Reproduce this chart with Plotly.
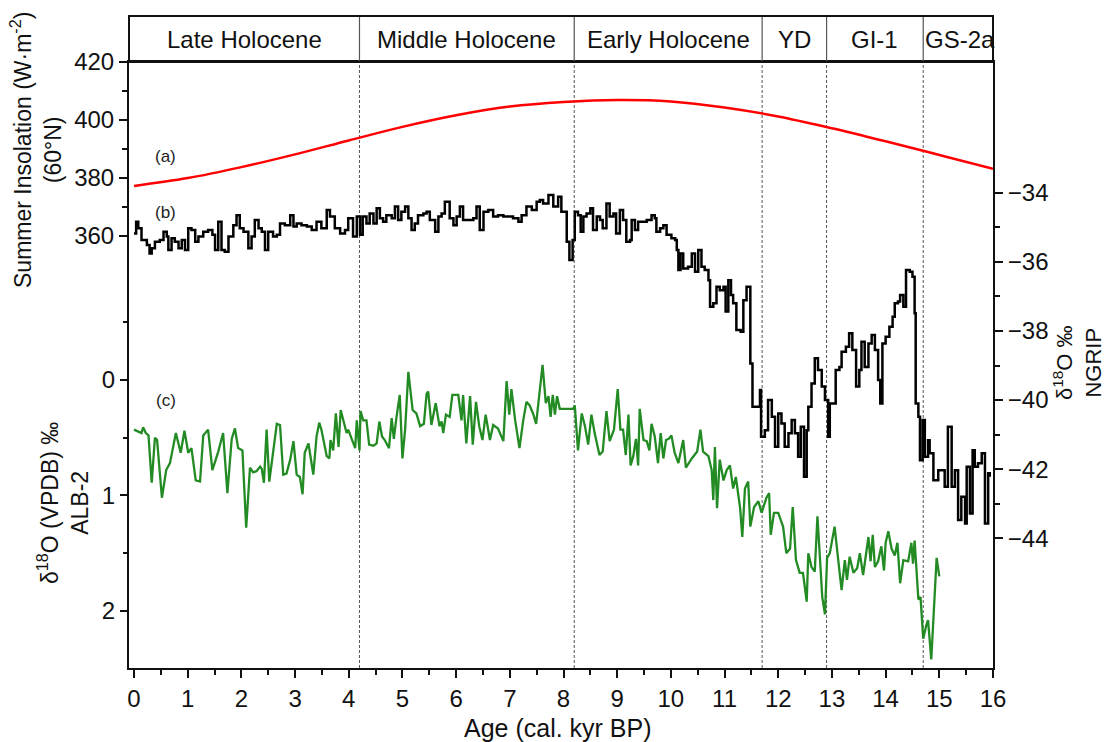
import plotly.graph_objects as go

# --- (a) summer insolation at 60°N (W/m²) ---
ins_age = [0, 1, 2, 3, 4, 5, 6, 7, 8, 9, 10, 11, 12, 13, 14, 15, 16]
ins_val = [377.2, 379.9, 383.7, 388.1, 392.9, 397.6, 401.6, 404.6, 406.2, 406.9,
           406.4, 404.3, 401.2, 397.1, 392.6, 387.9, 383.1]

# --- (b) NGRIP δ18O (‰) ---
ngrip_age = [0.00, 0.04, 0.08, 0.14, 0.24, 0.29, 0.33, 0.39, 0.48, 0.55, 0.61, 0.64, 0.70, 0.76,
             0.83, 0.89, 0.95, 1.01, 1.07, 1.14, 1.20, 1.29, 1.38, 1.46, 1.51, 1.57, 1.63, 1.69,
             1.76, 1.85, 1.91, 1.97, 2.04, 2.13, 2.19, 2.25, 2.32, 2.38, 2.44, 2.50, 2.59, 2.66,
             2.72, 2.81, 2.91, 2.97, 3.03, 3.12, 3.22, 3.31, 3.40, 3.49, 3.59, 3.65, 3.74, 3.84,
             3.93, 3.99, 4.08, 4.15, 4.21, 4.26, 4.33, 4.39, 4.46, 4.52, 4.58, 4.64, 4.70, 4.80,
             4.86, 4.92, 4.98, 5.05, 5.11, 5.17, 5.23, 5.29, 5.39, 5.45, 5.51, 5.61, 5.67, 5.73,
             5.79, 5.88, 5.95, 6.01, 6.07, 6.13, 6.26, 6.32, 6.38, 6.44, 6.51, 6.60, 6.69, 6.78,
             6.88, 6.97, 7.06, 7.16, 7.22, 7.31, 7.41, 7.50, 7.56, 7.62, 7.72, 7.81, 7.90, 7.96,
             8.06, 8.11, 8.17, 8.21, 8.27, 8.32, 8.37, 8.43, 8.50, 8.55, 8.62, 8.68, 8.73, 8.80,
             8.86, 8.93, 8.98, 9.05, 9.11, 9.17, 9.24, 9.27, 9.33, 9.39, 9.45, 9.55, 9.64, 9.70,
             9.73, 9.80, 9.86, 9.92, 10.01, 10.08, 10.11, 10.14, 10.18, 10.23, 10.32, 10.39, 10.45,
             10.51, 10.57, 10.63, 10.70, 10.73, 10.79, 10.85, 10.91, 10.98, 11.02, 11.07, 11.12,
             11.16, 11.22, 11.30, 11.35, 11.41, 11.47, 11.48, 11.52, 11.60, 11.66, 11.68, 11.75,
             11.81, 11.88, 11.94, 12.00, 12.06, 12.12, 12.19, 12.25, 12.31, 12.37, 12.42, 12.48,
             12.53, 12.56, 12.62, 12.68, 12.74, 12.81, 12.87, 12.93, 12.96, 13.02, 13.07, 13.14,
             13.18, 13.26, 13.32, 13.38, 13.45, 13.51, 13.55, 13.61, 13.68, 13.74, 13.80, 13.86,
             13.90, 13.94, 14.00, 14.07, 14.13, 14.17, 14.23, 14.27, 14.33, 14.38, 14.45, 14.50,
             14.54, 14.56, 14.61, 14.64, 14.69, 14.73, 14.79, 14.82, 14.89, 14.98, 15.06, 15.10,
             15.16, 15.23, 15.29, 15.35, 15.41, 15.48, 15.51, 15.57, 15.62, 15.66, 15.72, 15.79,
             15.85, 15.91, 15.94]
ngrip_val = [-35.18, -34.84, -35.03, -35.37, -35.51, -35.76, -35.61, -35.42, -35.37, -35.13, -35.27,
             -35.66, -35.32, -35.42, -35.61, -35.37, -35.66, -35.03, -35.08, -35.42, -35.27, -35.13,
             -35.08, -35.22, -35.66, -34.84, -35.66, -35.71, -35.27, -34.94, -34.65, -35.03, -35.13,
             -35.61, -35.27, -34.79, -35.03, -35.13, -35.66, -35.13, -35.27, -35.22, -34.89, -34.94,
             -34.65, -34.98, -34.89, -34.94, -34.98, -35.08, -34.84, -35.03, -34.50, -34.69, -35.03,
             -35.18, -35.08, -34.74, -35.27, -34.69, -35.22, -34.69, -34.89, -34.60, -34.89, -34.45,
             -34.74, -34.84, -34.65, -34.74, -34.40, -34.79, -34.55, -34.40, -34.74, -35.08, -34.89,
             -34.65, -34.60, -34.55, -34.79, -35.13, -34.69, -34.60, -34.26, -34.74, -34.94, -34.69,
             -34.40, -34.79, -34.79, -34.74, -34.40, -35.08, -34.55, -34.50, -34.69, -34.65, -34.69,
             -34.69, -34.74, -34.84, -34.65, -34.40, -34.50, -34.26, -34.21, -34.31, -34.07, -34.40,
             -34.12, -34.55,
             -35.42, -35.95, -35.37, -34.55, -34.65, -35.13, -34.69, -34.60, -34.45, -35.08, -34.69,
             -34.79, -35.03, -34.31, -34.69, -34.60, -35.18, -34.50, -34.79, -35.42, -35.37, -34.79,
             -35.08, -34.84, -34.84, -34.79, -34.65, -34.74, -35.13, -35.03, -34.94, -35.22, -35.32,
             -35.37, -35.66, -36.24, -35.76, -36.19, -36.14, -35.76, -36.29, -35.66, -36.14, -36.24,
             -36.53, -37.30, -37.20, -36.72, -36.82, -36.72, -37.44, -36.53, -36.96, -37.20, -37.97,
             -38.02, -37.11, -36.72, -36.72, -38.94, -40.19, -40.19, -39.71, -41.06, -40.87, -40.00,
             -40.48, -41.35, -40.39, -40.68, -41.35, -40.96, -40.58, -40.96, -41.64, -40.77, -42.22,
             -40.87, -40.19, -39.52, -38.79, -39.13, -39.61, -40.00, -41.06, -40.10, -40.10, -39.13,
             -39.04, -38.60, -38.46, -38.07, -38.55, -39.61, -39.13, -38.31, -39.04, -38.36, -38.12,
             -38.55, -39.42, -40.10, -38.36, -38.17, -37.88, -37.59, -37.20, -37.15, -36.96, -37.30,
             -36.24, -36.29, -36.43, -37.49, -40.10, -40.48, -41.74, -40.58, -41.64, -41.16, -41.54,
             -42.32, -42.03, -42.03, -42.51, -40.77, -42.51, -42.03, -43.47, -42.80, -43.57, -41.93,
             -43.28, -41.45, -41.93, -41.83, -41.54, -43.57, -42.12, -42.22]

# --- (c) ALB-2 speleothem δ18O (‰ VPDB) ---
alb_age = [0.00, 0.08, 0.14, 0.17, 0.22, 0.27, 0.33, 0.39, 0.43, 0.52, 0.60, 0.67, 0.78, 0.87,
           0.94, 1.01, 1.07, 1.15, 1.23, 1.29, 1.38, 1.46, 1.57, 1.66, 1.74, 1.82, 1.88, 1.94,
           2.02, 2.09, 2.16, 2.22, 2.28, 2.35, 2.38, 2.42, 2.47, 2.52, 2.59, 2.66, 2.72, 2.78,
           2.84, 2.91, 2.97, 3.03, 3.09, 3.14, 3.18, 3.25, 3.34, 3.40, 3.45, 3.49, 3.59, 3.64,
           3.66, 3.71, 3.76, 3.81, 3.85, 3.91, 3.96, 3.99, 4.05, 4.12, 4.15, 4.20, 4.22, 4.27,
           4.33, 4.38, 4.46, 4.52, 4.57, 4.62, 4.67, 4.75, 4.80, 4.84, 4.89, 4.95, 5.00, 5.05,
           5.11, 5.19, 5.26, 5.33, 5.40, 5.45, 5.48, 5.54, 5.62, 5.69, 5.73, 5.76, 5.81, 5.88,
           5.93, 6.04, 6.10, 6.13, 6.19, 6.26, 6.31, 6.37, 6.43, 6.49, 6.55, 6.63, 6.69, 6.78,
           6.88, 6.94, 6.99, 7.03, 7.10, 7.18, 7.25, 7.31, 7.37, 7.44, 7.49, 7.53, 7.61, 7.67,
           7.72, 7.76, 7.80, 7.84, 7.88, 7.93, 8.06, 8.18, 8.21,
           8.27, 8.34, 8.40, 8.46, 8.52, 8.58, 8.67, 8.73, 8.80, 8.86, 8.94, 9.01, 9.06, 9.11,
           9.16, 9.21, 9.25, 9.30, 9.35, 9.39, 9.42, 9.49, 9.55, 9.60, 9.64, 9.70, 9.76, 9.81,
           9.86, 9.91, 9.96, 10.01, 10.07, 10.14, 10.23, 10.28, 10.39, 10.49, 10.55, 10.60, 10.70,
           10.76, 10.79, 10.82, 10.86, 10.91, 10.98, 11.04, 11.10, 11.16, 11.21, 11.29, 11.33,
           11.38, 11.44, 11.48, 11.55, 11.63, 11.69, 11.78, 11.83, 11.86, 11.92, 12.00, 12.09,
           12.15, 12.22, 12.27, 12.33, 12.40, 12.46, 12.53, 12.56, 12.62, 12.68, 12.73, 12.78,
           12.82, 12.87, 12.91, 12.96, 13.05, 13.12, 13.18, 13.24, 13.28, 13.33, 13.40, 13.47,
           13.52, 13.58, 13.63, 13.68, 13.72, 13.76, 13.80, 13.86, 13.92, 13.97, 14.00, 14.05,
           14.11, 14.17, 14.22, 14.27, 14.33, 14.42, 14.48, 14.51, 14.54, 14.61, 14.65, 14.70,
           14.76, 14.79, 14.85, 14.92, 14.95, 15.00]
alb_val = [0.43, 0.45, 0.46, 0.41, 0.46, 0.48, 0.89, 0.50, 0.52, 1.02, 0.78, 0.72, 0.46, 0.63,
           0.44, 0.63, 0.59, 0.87, 0.88, 0.48, 0.43, 0.78, 0.62, 0.46, 0.98, 0.51, 0.42, 0.59,
           0.61, 1.28, 0.76, 0.80, 0.79, 0.75, 0.77, 0.89, 0.43, 0.88, 0.61, 0.38, 0.39, 0.82,
           0.81, 0.69, 0.53, 0.82, 0.84, 0.99, 0.63, 0.55, 0.82, 0.49, 0.37, 0.43, 0.66, 0.68,
           0.52, 0.61, 0.29, 0.58, 0.26, 0.36, 0.46, 0.43, 0.50, 0.59, 0.35, 0.61, 0.27, 0.35,
           0.35, 0.56, 0.57, 0.55, 0.36, 0.49, 0.52, 0.59, 0.33, 0.51, 0.32, 0.13, 0.68, 0.43,
           -0.07, 0.26, 0.29, 0.40, 0.38, 0.12, 0.10, 0.39, 0.20, 0.40, 0.36, 0.46, 0.30, 0.32,
           0.13, 0.13, 0.35, 0.13, 0.55, 0.14, 0.56, 0.19, 0.40, 0.52, 0.30, 0.52, 0.39, 0.42,
           0.53, 0.01, 0.30, 0.08, 0.35, 0.59, 0.35, 0.19, 0.22, 0.30, 0.38, 0.22, -0.13, 0.20,
           0.14, 0.32, 0.13, 0.30, 0.14, 0.25, 0.25, 0.25, 0.22,
           0.61, 0.29, 0.40, 0.56, 0.30, 0.46, 0.65, 0.62, 0.27, 0.53, 0.43, 0.08, 0.43, 0.43,
           0.65, 0.30, 0.74, 0.66, 0.51, 0.74, 0.25, 0.52, 0.53, 0.61, 0.38, 0.49, 0.72, 0.46,
           0.68, 0.52, 0.51, 0.48, 0.63, 0.72, 0.52, 0.76, 0.68, 0.62, 0.43, 0.62, 0.66,
           0.78, 1.04, 0.58, 1.11, 0.69, 0.87, 0.78, 0.74, 0.94, 0.84, 1.11, 1.36,
           0.94, 0.88, 1.27, 1.10, 1.05, 1.15, 1.02, 0.98, 1.34, 1.15, 1.15, 1.27,
           1.50, 1.46, 1.10, 1.56, 1.67, 1.67, 1.92, 1.50, 1.62, 1.66, 1.18, 1.62,
           1.88, 2.03, 1.54, 1.50, 1.27, 1.57, 1.82, 1.56, 1.73, 1.53, 1.67, 1.63,
           1.50, 1.69, 1.53, 1.36, 1.57, 1.34, 1.62, 1.57, 1.44, 1.65, 1.41, 1.31,
           1.46, 1.52, 1.41, 1.76, 1.56, 1.57, 1.41, 1.59, 1.39, 1.90, 1.88, 2.24,
           2.12, 2.08, 2.42, 1.76, 1.54, 1.70]

# --- climate stages (kyr BP) ---
stage_bounds = [4.2, 8.2, 11.7, 12.9, 14.7]
stage_names = ["Late Holocene", "Middle Holocene", "Early Holocene", "YD", "GI-1", "GS-2a"]
stage_centres = [2.05, 6.2, 9.95, 12.3, 13.8, 15.38]

FONT = "Liberation Sans, Arial, Helvetica, sans-serif"
X_RANGE = [-0.093, 16.0]
BAND_TOP = 1 + 46 / 606  # band height above the plotting area, in paper units

fig = go.Figure()

fig.add_trace(go.Scatter(x=ins_age, y=ins_val, mode="lines", yaxis="y",
                         line=dict(color="#ff0000", width=2.5, shape="spline"),
                         showlegend=False))
fig.add_trace(go.Scatter(x=ngrip_age, y=ngrip_val, mode="lines", yaxis="y3",
                         line=dict(color="#000000", width=2.5, shape="hv"),
                         showlegend=False))
fig.add_trace(go.Scatter(x=alb_age, y=alb_val, mode="lines", yaxis="y2",
                         line=dict(color="#238b23", width=2.3),
                         showlegend=False))

shapes = []
# dashed stage boundaries through the data area
for b in stage_bounds:
    shapes.append(dict(type="line", xref="x", yref="paper", x0=b, x1=b, y0=0, y1=1,
                       line=dict(color="#555555", width=1, dash="3px,2px"), layer="below"))
    # solid separators inside the stage band
    shapes.append(dict(type="line", xref="x", yref="paper", x0=b, x1=b, y0=1, y1=BAND_TOP,
                       line=dict(color="#555555", width=1.2)))
# frame of the stage band
shapes.append(dict(type="rect", xref="paper", yref="paper", x0=0, x1=1, y0=1, y1=BAND_TOP,
                   line=dict(color="#111111", width=2)))

annotations = []
for name, c in zip(stage_names, stage_centres):
    annotations.append(dict(x=c, y=(1 + BAND_TOP) / 2, xref="x", yref="paper", text=name,
                            showarrow=False, xanchor="center", yanchor="middle",
                            font=dict(family=FONT, size=24, color="#111111")))

label_font = dict(family=FONT, size=17, color="#222222")
annotations += [
    dict(x=0.58, y=387.2, xref="x", yref="y", text="(a)", showarrow=False, font=label_font),
    dict(x=0.58, y=367.9, xref="x", yref="y", text="(b)", showarrow=False, font=label_font),
    dict(x=0.6, y=0.18, xref="x", yref="y2", text="(c)", showarrow=False, font=label_font),
]

title_font = dict(family=FONT, size=23, color="#111111")
annotations += [
    dict(x=0, y=(668 - 150) / 606, xref="paper", yref="paper", xshift=-93,
         text="Summer Insolation (W·m<sup>-2</sup>)<br>(60°N)", textangle=-90,
         showarrow=False, xanchor="center", yanchor="middle", font=title_font),
    dict(x=0, y=(668 - 503) / 606, xref="paper", yref="paper", xshift=-66,
         text="δ<sup>18</sup>O (VPDB) ‰<br>ALB-2", textangle=-90,
         showarrow=False, xanchor="center", yanchor="middle", font=title_font),
    dict(x=1, y=(668 - 363) / 606, xref="paper", yref="paper", xshift=84,
         text="δ<sup>18</sup>O ‰<br>NGRIP", textangle=-90,
         showarrow=False, xanchor="center", yanchor="middle",
         font=dict(family=FONT, size=22, color="#111111")),
    dict(x=(558 - 129) / 864, y=-60 / 606, xref="paper", yref="paper",
         text="Age (cal. kyr BP)", showarrow=False, xanchor="center", yanchor="middle",
         font=dict(family=FONT, size=25, color="#111111")),
]

tick_font = dict(family=FONT, size=24, color="#111111")
axis_common = dict(showgrid=False, zeroline=False, ticks="outside", ticklen=8, tickwidth=2,
                   tickcolor="#111111", tickfont=tick_font, linecolor="#111111", linewidth=2)

fig.update_layout(
    width=1107, height=742,
    margin=dict(l=129, r=114, t=62, b=74),
    paper_bgcolor="white", plot_bgcolor="white",
    font=dict(family=FONT, color="#111111"),
    shapes=shapes, annotations=annotations,
    xaxis=dict(range=X_RANGE, tickmode="linear", tick0=0, dtick=1, showline=True, mirror=True,
               minor=dict(dtick=0.5, tick0=0, ticks="outside", ticklen=5, tickwidth=2,
                          tickcolor="#111111"),
               **axis_common),
    yaxis=dict(range=[210.7, 420], tickmode="array", tickvals=[360, 380, 400, 420],
               showline=True, side="left",
               minor=dict(tickmode="array", tickvals=[370, 390, 410], ticks="outside",
                          ticklen=5, tickwidth=2, tickcolor="#111111"),
               **axis_common),
    yaxis2=dict(range=[2.494, -2.753], overlaying="y", side="left", tickmode="array",
                tickvals=[0, 1, 2], showline=False,
                minor=dict(tickmode="array", tickvals=[-0.5, 0.5, 1.5], ticks="outside",
                           ticklen=5, tickwidth=2, tickcolor="#111111"),
                **axis_common),
    yaxis3=dict(range=[-47.753, -30.218], overlaying="y", side="right", tickmode="array",
                tickvals=[-44, -42, -40, -38, -36, -34], showline=True,
                minor=dict(tickmode="array", tickvals=[-43, -41, -39, -37, -35],
                           ticks="outside", ticklen=5, tickwidth=2, tickcolor="#111111"),
                **axis_common),
)

fig.write_html("out.html")
